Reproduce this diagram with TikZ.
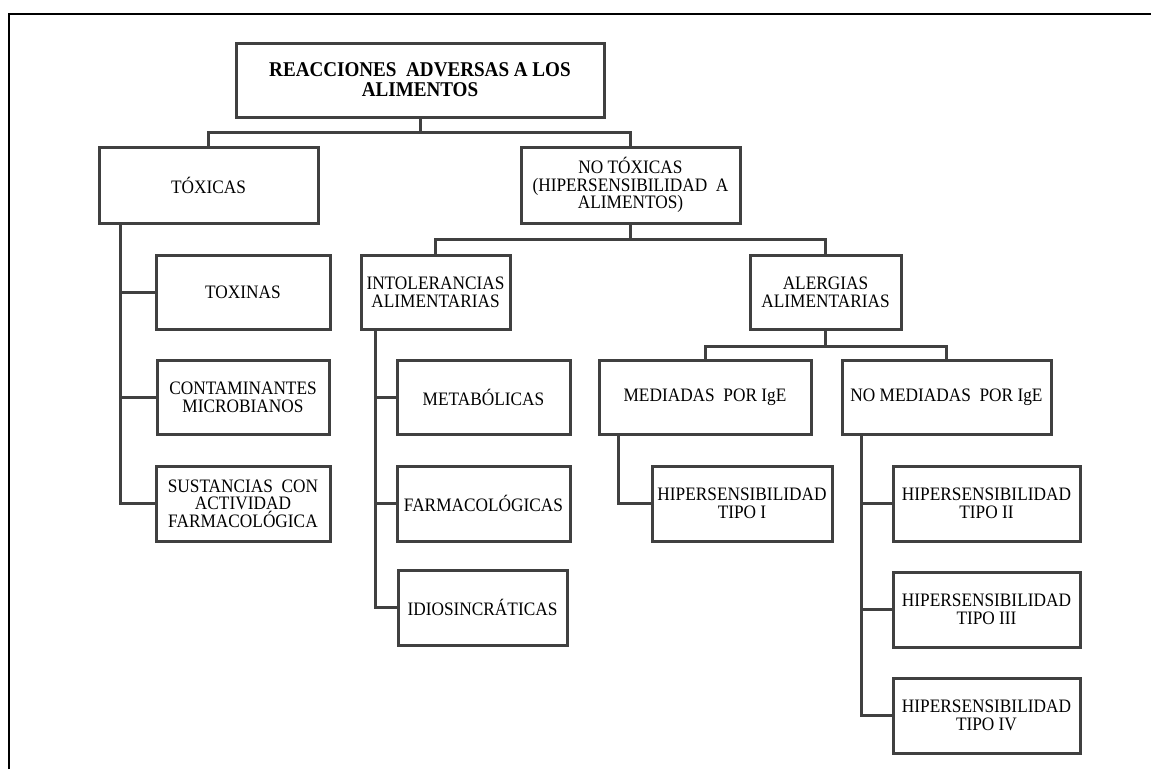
\documentclass[tikz,border=0pt]{standalone}
\usepackage{fontspec}
\setmainfont{Liberation Serif}[FakeStretch=0.91]
\definecolor{boxgray}{HTML}{404040}
\begin{document}
\begin{tikzpicture}[x=1pt,y=-1pt,
  bx/.style={draw=boxgray, line width=3pt, inner sep=0pt, align=center,
    font=\fontsize{19}{17.7}\selectfont},
  conn/.style={draw=boxgray, line width=3pt},
  frameline/.style={draw=black, line width=2pt}]
\useasboundingbox (0,0) rectangle (1151,769);
\draw[frameline] (8.5,769) -- (8.5,13.5) -- (1151,13.5);

\node[bx, minimum width=368pt, minimum height=74pt, font=\fontsize{21}{20}\selectfont\bfseries] (root) at (420,80) {REACCIONES\ \ ADVERSAS A LOS\\ALIMENTOS};
\node[bx, minimum width=219pt, minimum height=76pt] (tox) at (208.5,185) {TÓXICAS};
\node[bx, minimum width=219pt, minimum height=76pt] (notox) at (630.5,185) {NO TÓXICAS\\(HIPERSENSIBILIDAD\ \ A\\ALIMENTOS)};

\node[bx, minimum width=174pt, minimum height=74pt] (toxinas) at (243,292) {TOXINAS};
\node[bx, minimum width=172pt, minimum height=74pt] (contam) at (243,397) {CONTAMINANTES\\MICROBIANOS};
\node[bx, minimum width=174pt, minimum height=75pt] (sust) at (243,503.5) {SUSTANCIAS\ \ CON\\ACTIVIDAD\\FARMACOLÓGICA};

\node[bx, minimum width=149pt, minimum height=74pt] (intol) at (435.5,292) {INTOLERANCIAS\\ALIMENTARIAS};
\node[bx, minimum width=151pt, minimum height=74pt] (alerg) at (825.5,292) {ALERGIAS\\ALIMENTARIAS};

\node[bx, minimum width=173pt, minimum height=74pt] (metab) at (483.5,397) {METABÓLICAS};
\node[bx, minimum width=173pt, minimum height=75pt] (farma) at (483.5,503.5) {FARMACOLÓGICAS};
\node[bx, minimum width=169pt, minimum height=75pt] (idio) at (482.5,607.5) {IDIOSINCRÁTICAS};

\node[bx, minimum width=212pt, minimum height=74pt] (med) at (705,397) {MEDIADAS\ \ POR IgE};
\node[bx, minimum width=209pt, minimum height=74pt] (nomed) at (946.5,397) {NO MEDIADAS\ \ POR IgE};

\node[bx, minimum width=180pt, minimum height=75pt] (t1) at (742,503.5) {HIPERSENSIBILIDAD\\TIPO I};
\node[bx, minimum width=187pt, minimum height=75pt] (t2) at (986.5,503.5) {HIPERSENSIBILIDAD\\TIPO II};
\node[bx, minimum width=187pt, minimum height=75pt] (t3) at (986.5,609.5) {HIPERSENSIBILIDAD\\TIPO III};
\node[bx, minimum width=187pt, minimum height=75pt] (t4) at (986.5,715.5) {HIPERSENSIBILIDAD\\TIPO IV};

% tree connectors
\coordinate (b1) at (420,132);
\draw[conn] (root.south) -- (b1);
\draw[conn] (b1) -| (tox.north);
\draw[conn] (b1) -| (notox.north);

\coordinate (b2) at (630.5,239);
\draw[conn] (notox.south) -- (b2);
\draw[conn] (b2) -| (intol.north);
\draw[conn] (b2) -| (alerg.north);

\coordinate (b3) at (825.5,346);
\draw[conn] (alerg.south) -- (b3);
\draw[conn] (b3) -| (med.north);
\draw[conn] (b3) -| (nomed.north);

% side branches
\draw[conn] ([xshift=23pt]tox.south west) |- (toxinas.west);
\draw[conn] ([xshift=23pt]tox.south west) |- (contam.west);
\draw[conn] ([xshift=23pt]tox.south west) |- (sust.west);

\draw[conn] ([xshift=16pt]intol.south west) |- (metab.west);
\draw[conn] ([xshift=16pt]intol.south west) |- (farma.west);
\draw[conn] ([xshift=16pt]intol.south west) |- (idio.west);

\draw[conn] ([xshift=21pt]med.south west) |- (t1.west);

\draw[conn] ([xshift=21pt]nomed.south west) |- (t2.west);
\draw[conn] ([xshift=21pt]nomed.south west) |- (t3.west);
\draw[conn] ([xshift=21pt]nomed.south west) |- (t4.west);
\end{tikzpicture}
\end{document}
